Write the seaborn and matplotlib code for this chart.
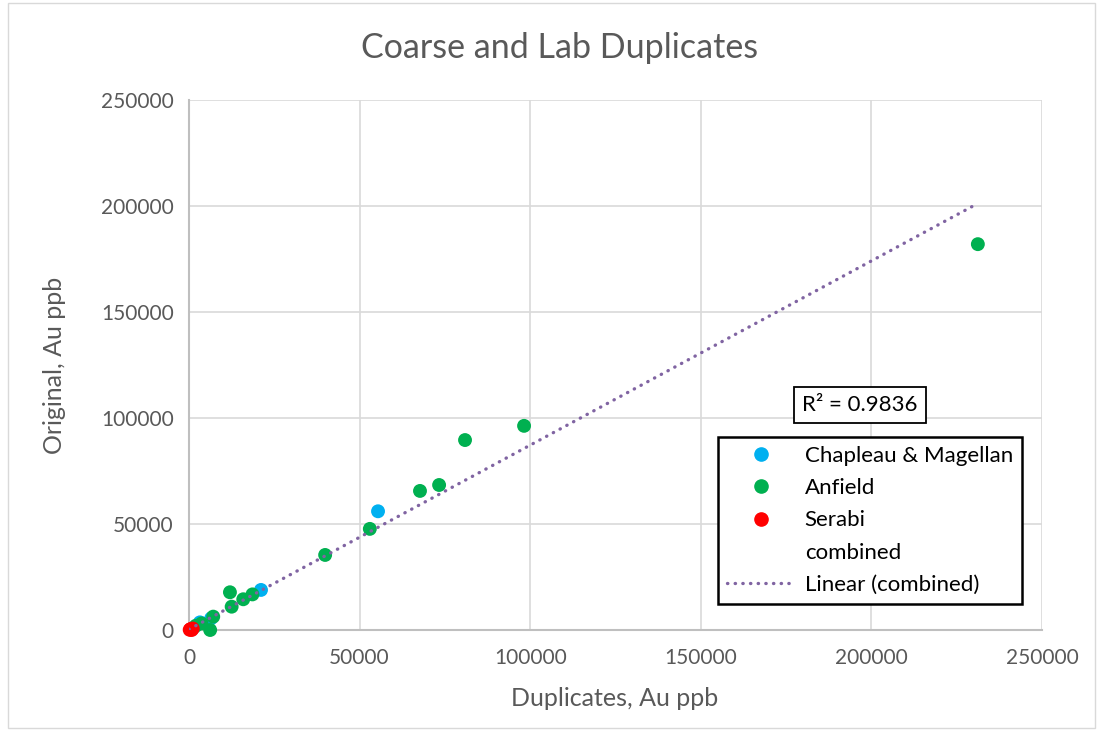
import numpy as np
import pandas as pd
import matplotlib
matplotlib.use("Agg")
import matplotlib.pyplot as plt
from matplotlib.lines import Line2D
from matplotlib.patches import Rectangle
import seaborn as sns

# ── Data ──────────────────────────────────────────────────────
chapleau_x = [55400, 21100, 6500, 3200, 1200]
chapleau_y = [56000, 18900, 5500, 3600, 900]

anfield_x = [231200, 98200, 80900, 73300, 67700, 53000, 39900, 18600, 15900,
             12000, 12500, 7100, 6200, 3700, 2000]
anfield_y = [182000, 96300, 89600, 68400, 65600, 47700, 35400, 16800, 14500,
             17800, 11000, 6300, 0, 3100, 2000]

serabi_x = [800, 400, 1100, 200, 600]
serabi_y = [0, 300, 700, 100, 500]

trend_x = [0, 229500]
trend_slope = 0.869
trend_intercept = 300
r_squared = 0.9836

COL_BLUE = "#00B0F0"
COL_GREEN = "#00B050"
COL_RED = "#FF0000"
COL_TREND = "#8064A2"
TXT = "#595959"
GRID = "#D9D9D9"
DOTS = (0, (0.1, 2.2))

df = pd.concat([
    pd.DataFrame({"dup": chapleau_x, "orig": chapleau_y, "site": "Chapleau & Magellan"}),
    pd.DataFrame({"dup": anfield_x, "orig": anfield_y, "site": "Anfield"}),
    pd.DataFrame({"dup": serabi_x, "orig": serabi_y, "site": "Serabi"}),
], ignore_index=True)

sns.set_style("white")
plt.rcParams["font.family"] = ["Lato", "DejaVu Sans"]

fig = plt.figure(figsize=(11.03, 7.31), dpi=100)
ax = fig.add_axes([189 / 1103, 1 - 630 / 731, (1042 - 189) / 1103, 530 / 731])

tx = np.array(trend_x, dtype=float)
ax.plot(tx, trend_slope * tx + trend_intercept, color=COL_TREND, linewidth=2.4,
        linestyle=DOTS, dash_capstyle="round", zorder=4)

palette = {"Chapleau & Magellan": COL_BLUE, "Anfield": COL_GREEN, "Serabi": COL_RED}
sns.scatterplot(data=df, x="dup", y="orig", hue="site", palette=palette,
                s=100, edgecolor="none", legend=False, ax=ax, zorder=3,
                clip_on=False)

ax.set_xlim(0, 250000)
ax.set_ylim(0, 250000)
ax.set_xticks(np.arange(0, 250001, 50000))
ax.set_yticks(np.arange(0, 250001, 50000))
ax.grid(True, color=GRID, linewidth=1.2, zorder=0)
ax.set_axisbelow(True)
for side in ["top", "right"]:
    ax.spines[side].set_visible(False)
for side in ["left", "bottom"]:
    ax.spines[side].set_color("#BFBFBF")
    ax.spines[side].set_linewidth(1.5)
ax.tick_params(axis="both", length=0, labelsize=15, labelcolor=TXT)
ax.tick_params(axis="x", pad=13)
ax.tick_params(axis="y", pad=11)

ax.set_xlabel("Duplicates, Au ppb", fontsize=18, color=TXT, va="center")
ax.set_ylabel("Original, Au ppb", fontsize=18, color=TXT, va="center")
ax.xaxis.set_label_coords(0.499, (630 - 698) / 530)
ax.yaxis.set_label_coords((54 - 189) / 853, 0.5)
fig.text(560 / 1103, 1 - 48 / 731, "Coarse and Lab Duplicates", fontsize=24.5,
         color=TXT, ha="center", va="center")

# R² label box
fig.text(860 / 1103, 1 - 405 / 731, f"R² = {r_squared}", fontsize=16, color="black",
         ha="center", va="center",
         bbox=dict(boxstyle="square,pad=0.35", facecolor="white", edgecolor="black",
                   linewidth=1.3))

handles = [
    Line2D([], [], linestyle="none", marker="o", markersize=9.5, color=COL_BLUE),
    Line2D([], [], linestyle="none", marker="o", markersize=9.5, color=COL_GREEN),
    Line2D([], [], linestyle="none", marker="o", markersize=9.5, color=COL_RED),
    Line2D([], [], linestyle="none", marker=None),
    Line2D([], [], color=COL_TREND, linewidth=2.4, linestyle=DOTS,
           dash_capstyle="round"),
]
labels = ["Chapleau & Magellan", "Anfield", "Serabi", "combined", "Linear (combined)"]
leg = fig.legend(handles, labels, loc="upper left",
                 bbox_to_anchor=(718 / 1103, 1 - 437 / 731), fontsize=16,
                 frameon=True, fancybox=False, framealpha=1, edgecolor="black",
                 handlelength=3.1, handletextpad=0.4, labelspacing=0.55,
                 borderpad=0.4, borderaxespad=0)
leg.get_frame().set_linewidth(1.8)
for t in leg.get_texts():
    t.set_color("black")

# outer chart border
fig.patches.append(Rectangle((8 / 1103, 3 / 731), 1 - 16 / 1103, 1 - 6 / 731,
                             transform=fig.transFigure, fill=False,
                             edgecolor="#D9D9D9", linewidth=1))

fig.savefig("out.png", dpi=100, facecolor="white")
